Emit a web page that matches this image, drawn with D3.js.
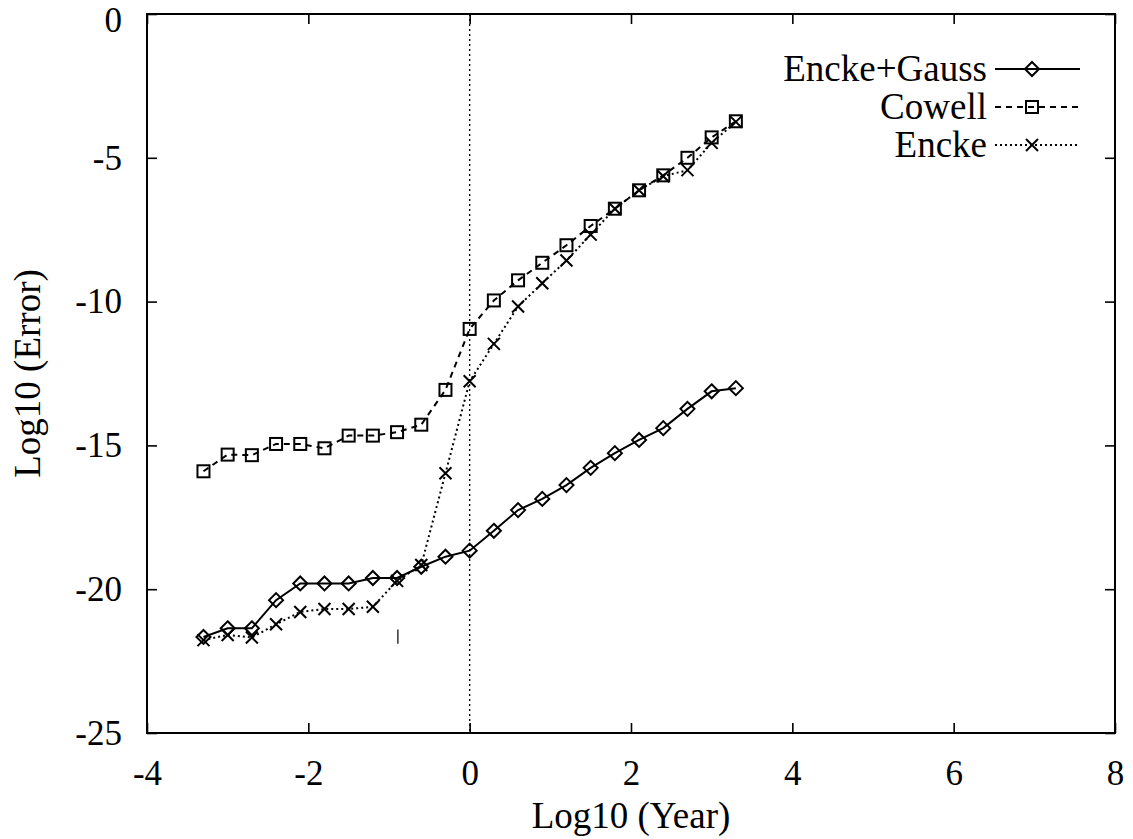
<!DOCTYPE html>
<html>
<head>
<meta charset="utf-8">
<script src="https://cdn.jsdelivr.net/npm/d3@7"></script>
<style>
  body { margin: 0; background: #fff; }
  svg { display: block; }
  text { font-family: 'Liberation Serif', 'Times New Roman', serif; fill: #000; }
</style>
</head>
<body>
<svg id="chart"></svg>
<script>
const W = 1133
const H = 839
const margins = { top: 14, bottom: 106, left: 147, right: 18 }
const w = W - margins.left - margins.right
const h = H - margins.top - margins.bottom

// log10(year) sample points
const years = [-3.3, -3.0, -2.7, -2.4, -2.1, -1.8, -1.5, -1.2, -0.9, -0.6, -0.3, 0,
  0.3, 0.6, 0.9, 1.2, 1.5, 1.8, 2.1, 2.4, 2.7, 3.0, 3.3]

const enckeGauss = [-21.66, -21.36, -21.36, -20.38, -19.80, -19.80, -19.80, -19.61, -19.61, -19.22, -18.87, -18.66,
  -17.97, -17.25, -16.86, -16.38, -15.78, -15.27, -14.81, -14.40, -13.73, -13.12, -13.01]
const cowell = [-15.90, -15.32, -15.34, -14.95, -14.95, -15.10, -14.66, -14.66, -14.54, -14.28, -13.07, -10.95,
  -9.96, -9.26, -8.65, -8.04, -7.37, -6.77, -6.13, -5.61, -5.00, -4.29, -3.73]
const encke = [-21.77, -21.59, -21.68, -21.22, -20.79, -20.69, -20.69, -20.61, -19.71, -19.16, -15.97, -12.77,
  -11.47, -10.17, -9.36, -8.57, -7.67, -6.77, -6.13, -5.64, -5.43, -4.48, -3.75]

const xTicks = [-4, -2, 0, 2, 4, 6, 8]
const yTicks = [0, -5, -10, -15, -20, -25]

const seriesNames = ['Encke+Gauss', 'Cowell', 'Encke']

const outer = d3.select('svg#chart').attr('width', W).attr('height', H)

const inner = outer.append('g')
  .attr('transform', 'translate(' + margins.left + ',' + margins.top + ')')

const xScale = d3.scaleLinear().domain([-4, 8]).range([0, w])
const yScale = d3.scaleLinear().domain([-25, 0]).range([h, 0])

// plain hyphen for negatives, like the original plot
const fmt = d => String(d)

// axes, gnuplot style: ticks pointing in, mirrored on all four sides
const xAxis = d3.axisBottom(xScale).tickValues(xTicks).tickFormat(fmt)
  .tickSizeInner(-10).tickSizeOuter(0).tickPadding(27)
const yAxis = d3.axisLeft(yScale).tickValues(yTicks).tickFormat(fmt)
  .tickSizeInner(-10).tickSizeOuter(0).tickPadding(25)

inner.append('g').attr('class', 'x axis').attr('transform', 'translate(0,' + h + ')').call(xAxis)
inner.append('g').attr('class', 'y axis').call(yAxis)
inner.append('g').attr('class', 'x2 axis')
  .call(d3.axisTop(xScale).tickValues(xTicks).tickSizeInner(-10).tickSizeOuter(0).tickFormat(''))
inner.append('g').attr('class', 'y2 axis').attr('transform', 'translate(' + w + ',0)')
  .call(d3.axisRight(yScale).tickValues(yTicks).tickSizeInner(-10).tickSizeOuter(0).tickFormat(''))

inner.selectAll('.axis path.domain').remove()
inner.selectAll('.axis line').attr('stroke', '#000').attr('stroke-width', 1.6)
inner.selectAll('.axis text')
  .style('font-family', "'Liberation Serif', serif")
  .style('font-size', '35px')
  .attr('fill', '#000')

// the top "0" sits against the page edge; nudge it down a little
inner.selectAll('.y.axis .tick text').filter(d => d === 0).attr('dy', '0.5em')

// frame
inner.append('rect')
  .attr('width', w)
  .attr('height', h)
  .attr('fill', 'none')
  .attr('stroke', '#000')
  .attr('stroke-width', 2)

// zero axis
inner.append('line')
  .attr('x1', xScale(0)).attr('x2', xScale(0))
  .attr('y1', 0).attr('y2', h)
  .attr('stroke', '#000')
  .attr('stroke-width', 1.3)
  .attr('stroke-dasharray', '2,3')

// axis titles
outer.append('text')
  .attr('x', margins.left + xScale(2))
  .attr('y', 828)
  .attr('text-anchor', 'middle')
  .style('font-size', '37px')
  .text('Log10 (Year)')

outer.append('text')
  .attr('transform', 'translate(40,' + (margins.top + h / 2) + ') rotate(-90)')
  .attr('text-anchor', 'middle')
  .style('font-size', '37px')
  .text('Log10 (Error)')

const series = [
  { name: seriesNames[0], values: enckeGauss, dash: null, sym: 'diamond' },
  { name: seriesNames[1], values: cowell, dash: '6,5', sym: 'square' },
  { name: seriesNames[2], values: encke, dash: '2,3', sym: 'cross' }
]

const line = d3.line()
  .x(d => xScale(d[0]))
  .y(d => yScale(d[1]))

function drawSymbol(g, type, cx, cy) {
  if (type === 'diamond') {
    g.append('path')
      .attr('d', `M${cx},${cy - 7}L${cx + 7},${cy}L${cx},${cy + 7}L${cx - 7},${cy}Z`)
      .attr('fill', 'none').attr('stroke', '#000').attr('stroke-width', 2)
  } else if (type === 'square') {
    g.append('rect')
      .attr('x', cx - 6).attr('y', cy - 6).attr('width', 12).attr('height', 12)
      .attr('fill', 'none').attr('stroke', '#000').attr('stroke-width', 2)
  } else {
    g.append('path')
      .attr('d', `M${cx - 6},${cy - 6}L${cx + 6},${cy + 6}M${cx - 6},${cy + 6}L${cx + 6},${cy - 6}`)
      .attr('fill', 'none').attr('stroke', '#000').attr('stroke-width', 2)
  }
}

series.forEach(function (s) {
  const pts = years.map((x, i) => [x, s.values[i]])
  inner.append('path')
    .datum(pts)
    .attr('d', line)
    .attr('fill', 'none')
    .attr('stroke', '#000')
    .attr('stroke-width', 2)
    .attr('stroke-dasharray', s.dash)
  const g = inner.append('g').attr('class', 'points')
  pts.forEach(p => drawSymbol(g, s.sym, xScale(p[0]), yScale(p[1])))
})

// stray scan mark below the curves
inner.append('line')
  .attr('x1', xScale(-0.89)).attr('x2', xScale(-0.89))
  .attr('y1', yScale(-21.4)).attr('y2', yScale(-21.9))
  .attr('stroke', '#333').attr('stroke-width', 1.5)

// legend
const legend = outer.append('g').attr('class', 'legend')
series.forEach(function (s, i) {
  const y = 69 + i * 38
  legend.append('text')
    .attr('x', 987)
    .attr('y', y + 12)
    .attr('text-anchor', 'end')
    .style('font-size', '37px')
    .text(s.name)
  legend.append('line')
    .attr('x1', 995).attr('x2', 1080)
    .attr('y1', y).attr('y2', y)
    .attr('stroke', '#000').attr('stroke-width', 2)
    .attr('stroke-dasharray', s.dash)
  drawSymbol(legend, s.sym, 1032, y)
})
</script>
</body>
</html>
